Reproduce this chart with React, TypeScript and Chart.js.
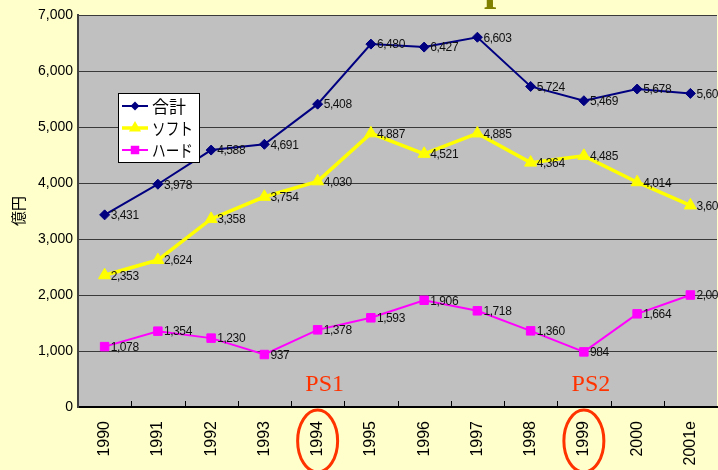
import React, { useEffect, useRef } from 'react';
import { Chart, registerables } from 'chart.js';

Chart.register(...registerables);

const categories = ['1990', '1991', '1992', '1993', '1994', '1995', '1996', '1997', '1998', '1999', '2000', '2001e'];
const totalValues = [3431, 3978, 4588, 4691, 5408, 6480, 6427, 6603, 5724, 5469, 5678, 5600];
const softValues = [2353, 2624, 3358, 3754, 4030, 4887, 4521, 4885, 4364, 4485, 4014, 3600];
const hardValues = [1078, 1354, 1230, 937, 1378, 1593, 1906, 1718, 1360, 984, 1664, 2000];
const seriesNames = ['合計', 'ソフト', 'ハード'];
const yMin = 0;
const yMax = 7000;
const yStep = 1000;
const yAxisTitle = '億円';
const consoleMarks = [
  { label: 'PS1', category: '1994' },
  { label: 'PS2', category: '1999' },
];
const titleFragment = 'p';

const BG = '#FFFFCC';
const PLOT_BG = '#C0C0C0';
const MARK_RED = '#FF3300';
const PLOT_RIGHT = 717;

const fmt = (v: number) => v.toLocaleString('en-US');

const decorPlugin = {
  id: 'decor',
  afterLayout(chart: any) {
    const ca = chart.chartArea;
    ca.right = PLOT_RIGHT;
    ca.width = ca.right - ca.left;
    const xs = chart.scales.x;
    xs.right = PLOT_RIGHT;
    xs.width = xs.right - xs.left;
    xs.configure();
    const ys = chart.scales.y;
    ys.configure();
  },
  beforeDraw(chart: any) {
    const { ctx, chartArea } = chart;
    ctx.save();
    ctx.fillStyle = BG;
    ctx.fillRect(0, 0, chart.width, chart.height);
    ctx.fillStyle = PLOT_BG;
    ctx.fillRect(chartArea.left, chartArea.top, chartArea.right - chartArea.left, chartArea.bottom - chartArea.top);
    ctx.fillStyle = '#808000';
    ctx.font = 'bold 44px "Liberation Serif", serif';
    ctx.textBaseline = 'alphabetic';
    ctx.textAlign = 'left';
    ctx.fillText(titleFragment, 484, 0);
    ctx.restore();
  },
  afterDatasetsDraw(chart: any) {
    const { ctx, chartArea } = chart;
    const xs = chart.scales.x;
    ctx.save();
    // inner tick marks at category boundaries
    ctx.strokeStyle = '#000';
    ctx.lineWidth = 1;
    for (let i = 1; i < categories.length; i++) {
      const x = Math.round((xs.getPixelForValue(i - 1) + xs.getPixelForValue(i)) / 2) + 0.5;
      ctx.beginPath();
      ctx.moveTo(x, chartArea.bottom);
      ctx.lineTo(x, chartArea.bottom - 6);
      ctx.stroke();
    }
    // data labels
    ctx.fillStyle = '#111';
    ctx.font = '12px "Liberation Sans", Arial, sans-serif';
    (ctx as any).letterSpacing = '-0.4px';
    ctx.textAlign = 'left';
    ctx.textBaseline = 'middle';
    chart.data.datasets.forEach((ds: any, di: number) => {
      const meta = chart.getDatasetMeta(di);
      meta.data.forEach((pt: any, i: number) => {
        ctx.fillText(fmt(ds.data[i]), pt.x + 6, pt.y + 1);
      });
    });
    (ctx as any).letterSpacing = '0px';
    // PS annotations
    consoleMarks.forEach((m) => {
      const idx = categories.indexOf(m.category);
      const x = xs.getPixelForValue(idx);
      ctx.fillStyle = MARK_RED;
      ctx.font = '24px "Liberation Serif", "Times New Roman", serif';
      ctx.textAlign = 'center';
      ctx.textBaseline = 'middle';
      ctx.fillText(m.label, x + 7, chartArea.bottom - 22);
      ctx.strokeStyle = MARK_RED;
      ctx.lineWidth = 3;
      ctx.beginPath();
      ctx.ellipse(x, chartArea.bottom + 34, 20, 31, 0, 0, Math.PI * 2);
      ctx.stroke();
    });
    // legend
    const lx = 118, ly = 93, lw = 81, lh = 69;
    ctx.fillStyle = '#fff';
    ctx.fillRect(lx, ly, lw, lh);
    ctx.strokeStyle = '#000';
    ctx.lineWidth = 1;
    ctx.strokeRect(lx + 0.5, ly + 0.5, lw, lh);
    const markerSizes = [4.5, 7, 6];
    chart.data.datasets.forEach((ds: any, di: number) => {
      const y = ly + 13 + di * 22;
      ctx.strokeStyle = ds.borderColor;
      ctx.lineWidth = ds.borderWidth;
      ctx.beginPath();
      ctx.moveTo(lx + 4, y);
      ctx.lineTo(lx + 30, y);
      ctx.stroke();
      const cx = lx + 17;
      const r = markerSizes[di];
      ctx.fillStyle = ds.pointBackgroundColor;
      ctx.beginPath();
      if (ds.pointStyle === 'rectRot') {
        ctx.moveTo(cx, y - r);
        ctx.lineTo(cx + r, y);
        ctx.lineTo(cx, y + r);
        ctx.lineTo(cx - r, y);
      } else if (ds.pointStyle === 'triangle') {
        ctx.moveTo(cx, y - r);
        ctx.lineTo(cx + r * 0.866, y + r * 0.5);
        ctx.lineTo(cx - r * 0.866, y + r * 0.5);
      } else {
        const s = r * 0.707;
        ctx.rect(cx - s, y - s, 2 * s, 2 * s);
      }
      ctx.closePath();
      ctx.fill();
      ctx.fillStyle = '#000';
      ctx.font = '17px "Noto Sans CJK JP", sans-serif';
      ctx.textAlign = 'left';
      ctx.textBaseline = 'middle';
      ctx.fillText(ds.label, lx + 34, y + 1, 41);
    });
    ctx.restore();
  },
};

export default function App() {
  const ref = useRef<HTMLCanvasElement | null>(null);
  useEffect(() => {
    document.body.style.margin = '0';
    const canvas = ref.current;
    if (!canvas) return;
    const chart = new Chart(canvas, {
      type: 'line',
      data: {
        labels: categories,
        datasets: [
          {
            label: seriesNames[0],
            data: totalValues,
            borderColor: '#000080',
            backgroundColor: '#000080',
            pointBackgroundColor: '#000080',
            pointBorderColor: '#000080',
            borderWidth: 2,
            pointStyle: 'rectRot',
            pointRadius: 5,
            pointBorderWidth: 1,
            tension: 0,
          },
          {
            label: seriesNames[1],
            data: softValues,
            borderColor: '#FFFF00',
            backgroundColor: '#FFFF00',
            pointBackgroundColor: '#FFFF00',
            pointBorderColor: '#FFFF00',
            borderWidth: 3.5,
            pointStyle: 'triangle',
            pointRadius: 7,
            pointBorderWidth: 1,
            tension: 0,
          },
          {
            label: seriesNames[2],
            data: hardValues,
            borderColor: '#FF00FF',
            backgroundColor: '#FF00FF',
            pointBackgroundColor: '#FF00FF',
            pointBorderColor: '#FF00FF',
            borderWidth: 2,
            pointStyle: 'rect',
            pointRadius: 6,
            pointBorderWidth: 1,
            tension: 0,
          },
        ],
      },
      options: {
        responsive: false,
        animation: false,
        devicePixelRatio: 1,
        layout: { padding: { top: 15, right: 1, left: 0, bottom: 0 } },
        plugins: {
          legend: { display: false },
          tooltip: { enabled: false },
        },
        scales: {
          x: {
            type: 'category',
            offset: true,
            grid: { display: false, drawTicks: false },
            border: { display: true, color: '#000', width: 2 },
            ticks: {
              color: '#000',
              font: { family: '"Liberation Sans", Arial, sans-serif', size: 16 },
              minRotation: 90,
              maxRotation: 90,
              padding: 14,
              autoSkip: false,
            },
            afterFit: (s: any) => {
              s.height = 63;
              s.paddingLeft = 0;
              s.paddingRight = 0;
            },
          },
          y: {
            min: yMin,
            max: yMax,
            grid: { color: '#3a3a3a', lineWidth: 1, drawTicks: false },
            border: { display: true, color: '#404040', width: 2 },
            ticks: {
              stepSize: yStep,
              color: '#000',
              font: { family: '"Liberation Sans", Arial, sans-serif', size: 14 },
              padding: 5,
              callback: (v: any) => fmt(Number(v)),
            },
            title: {
              display: true,
              text: yAxisTitle,
              color: '#000',
              font: { family: '"Noto Sans CJK JP", sans-serif', size: 15 },
              padding: { top: 9, bottom: 0 },
            },
            afterFit: (s: any) => {
              s.width = 78;
              s.paddingTop = 0;
              s.paddingBottom = 0;
            },
          },
        },
      },
      plugins: [decorPlugin],
    } as any);
    return () => chart.destroy();
  }, []);
  return (
    <div style={{ position: 'absolute', left: 0, top: 0, width: 718, height: 470 }}>
      <canvas ref={ref} width={718} height={470} style={{ display: 'block' }} />
    </div>
  );
}
